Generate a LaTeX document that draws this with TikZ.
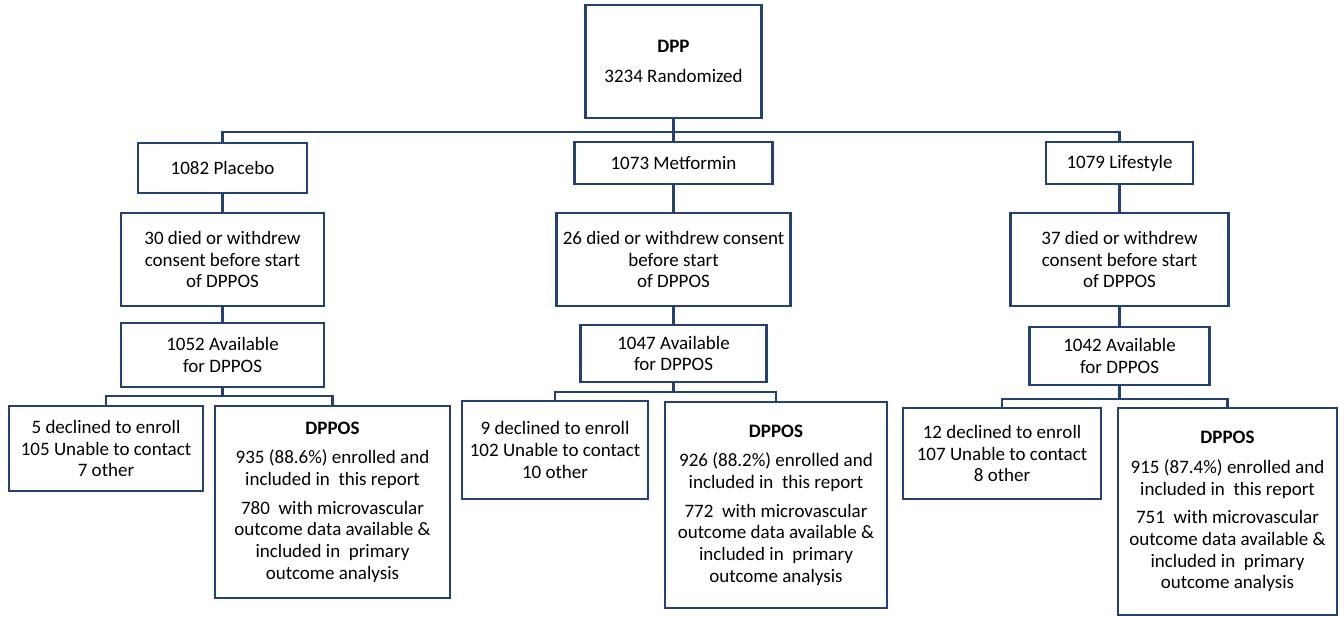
\documentclass[tikz,border=0pt]{standalone}
\usepackage{fontspec}
\setmainfont{Carlito}
\definecolor{navy}{RGB}{37,64,115}
\tikzset{
  box/.style={draw=navy, line width=2.6pt, fill=white, inner sep=0pt, align=center,
    font=\fontsize{19}{21.7}\selectfont, text=black},
  conn/.style={draw=navy, line width=2.6pt}
}
\begin{document}
\begin{tikzpicture}[x=1pt,y=-1pt]
\useasboundingbox (0,0) rectangle (1344,616);
% top
\node[box, minimum width=176, minimum height=113] (dpp) at (673.5,61.5) {\textbf{DPP}\\[8pt]3234 Randomized};
% placebo arm
\node[box, minimum width=169, minimum height=50] (plac) at (222.5,168) {1082 Placebo};
\node[box, minimum width=203, minimum height=93] (pdied) at (222.5,259.5) {30 died or withdrew\\consent before start\\of DPPOS};
\node[box, minimum width=203, minimum height=64] (pavail) at (222.5,355) {1052 Available\\for DPPOS};
\node[box, minimum width=194, minimum height=85] (pdec) at (106,448.5) {5 declined to enroll\\105 Unable to contact\\7 other};
\node[box, minimum width=235, minimum height=192] (pdppos) at (332.5,502) {\textbf{DPPOS}\\[8pt]935 (88.6\%) enrolled and\\included in\ \ this report\\[7pt]780\ \ with microvascular\\outcome data available \&\\included in\ \ primary\\outcome analysis};
% metformin arm
\node[box, minimum width=198, minimum height=42] (met) at (673.5,163) {1073 Metformin};
\node[box, minimum width=234, minimum height=93] (mdied) at (673.5,259.5) {26 died or withdrew consent\\before start\\of DPPOS};
\node[box, minimum width=186, minimum height=57] (mavail) at (673.5,353.5) {1047 Available\\for DPPOS};
\node[box, minimum width=186, minimum height=98] (mdec) at (555,450) {9 declined to enroll\\102 Unable to contact\\10 other};
\node[box, minimum width=222, minimum height=206] (mdppos) at (776,505) {\textbf{DPPOS}\\[8pt]926 (88.2\%) enrolled and\\included in\ \ this report\\[7pt]772\ \ with microvascular\\outcome data available \&\\included in\ \ primary\\outcome analysis};
% lifestyle arm
\node[box, minimum width=147, minimum height=42] (life) at (1119.5,163) {1079 Lifestyle};
\node[box, minimum width=218, minimum height=93] (ldied) at (1119.5,259.5) {37 died or withdrew\\consent before start\\of DPPOS};
\node[box, minimum width=180, minimum height=58] (lavail) at (1119.5,356) {1042 Available\\for DPPOS};
\node[box, minimum width=198, minimum height=91] (ldec) at (1002,453.5) {12 declined to enroll\\107 Unable to contact\\8 other};
\node[box, minimum width=219, minimum height=207] (ldppos) at (1227.5,511.5) {\textbf{DPPOS}\\[8pt]915 (87.4\%) enrolled and\\included in\ \ this report\\[7pt]751\ \ with microvascular\\outcome data available \&\\included in\ \ primary\\outcome analysis};
% bus coordinates
\coordinate (bus) at (673.5,132);
\coordinate (pb) at (222.5,396);
\coordinate (mb) at (673.5,392);
\coordinate (lb) at (1119.5,399);
% connectors
\draw[conn] (dpp.south) -- (met.north);
\draw[conn] (plac.north) -- (plac.north |- bus) -- (life.north |- bus) -- (life.north);
\draw[conn] (plac.south) -- (pdied.north);
\draw[conn] (pdied.south) -- (pavail.north);
\draw[conn] (pavail.south) -- (pb);
\draw[conn] (pdec.north) |- (pb) -| (pdppos.north);
\draw[conn] (met.south) -- (mdied.north);
\draw[conn] (mdied.south) -- (mavail.north);
\draw[conn] (mavail.south) -- (mb);
\draw[conn] (mdec.north) |- (mb) -| (mdppos.north);
\draw[conn] (life.south) -- (ldied.north);
\draw[conn] (ldied.south) -- (lavail.north);
\draw[conn] (lavail.south) -- (lb);
\draw[conn] (ldec.north) |- (lb) -| (ldppos.north);
\end{tikzpicture}
\end{document}
